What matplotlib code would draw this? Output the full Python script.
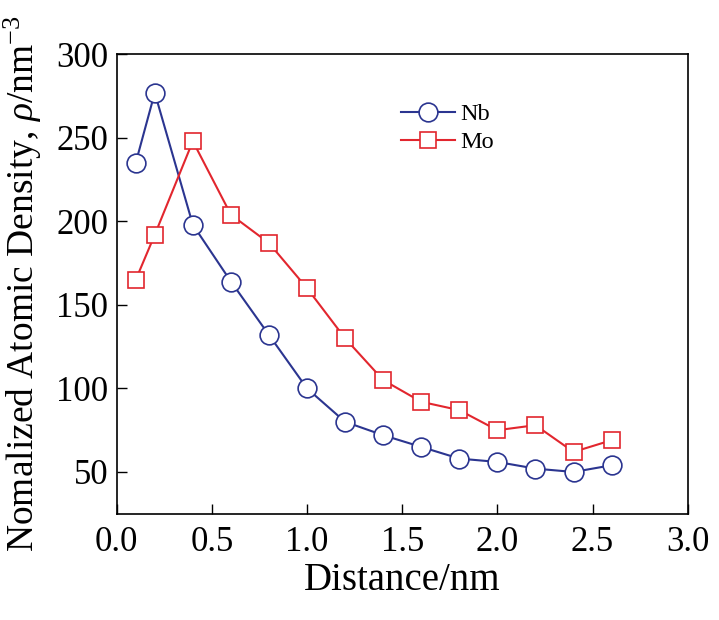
import matplotlib
matplotlib.use('Agg')
import matplotlib.pyplot as plt

# distance (nm) and normalized atomic density
distance = [0.1, 0.2, 0.4, 0.6, 0.8, 1.0, 1.2, 1.4, 1.6, 1.8, 2.0, 2.2, 2.4, 2.6]
nb_density = [235, 277, 198, 164, 132, 100, 80, 72, 65, 58, 56, 52, 50, 54]
mo_density = [165, 192, 248, 204, 187, 160, 130, 105, 92, 87, 75, 78, 62, 69]

x_ticks = [0.0, 0.5, 1.0, 1.5, 2.0, 2.5, 3.0]
y_ticks = [50, 100, 150, 200, 250, 300]

plt.rcParams['font.family'] = ['Liberation Serif', 'DejaVu Serif']
plt.rcParams['mathtext.fontset'] = 'custom'
plt.rcParams['mathtext.rm'] = 'Liberation Serif'
plt.rcParams['mathtext.it'] = 'Liberation Serif:italic'

nb_color = '#2b3590'
mo_color = '#e2262e'

fig = plt.figure(figsize=(7.19, 6.2), dpi=100)
ax = fig.add_axes([0.1623, 0.1714, 0.7942, 0.741])

ax.plot(distance, nb_density, color=nb_color, lw=1.5, marker='o', ms=13.5,
        mfc='white', mec=nb_color, mew=1.2, label='Nb')
ax.plot(distance, mo_density, color=mo_color, lw=1.5, marker='s', ms=11,
        mfc='white', mec=mo_color, mew=1.2, label='Mo')

ax.set_xlim(0, 3.0)
ax.set_ylim(25, 300)
ax.set_xticks(x_ticks)
ax.set_xticklabels([f'{t:.1f}' for t in x_ticks])
ax.set_yticks(y_ticks)

ax.tick_params(direction='in', length=7, width=1, labelsize=25,
               top=False, right=False)
ax.tick_params(axis='x', pad=9)
ax.tick_params(axis='y', pad=6)
for s in ax.spines.values():
    s.set_linewidth(1.2)

ax.set_xlabel('Distance/nm', fontsize=28, labelpad=2)
ax.set_ylabel(r'Nomalized Atomic Density, $\it{\rho}$/nm$^{-3}$', fontsize=27, labelpad=9)

ax.legend(loc='upper left', bbox_to_anchor=(0.481, 0.915), frameon=False,
          fontsize=17.5, handlelength=2.2, handletextpad=0.25, labelspacing=0.25,
          borderaxespad=0)

fig.savefig('out.png', dpi=100)
